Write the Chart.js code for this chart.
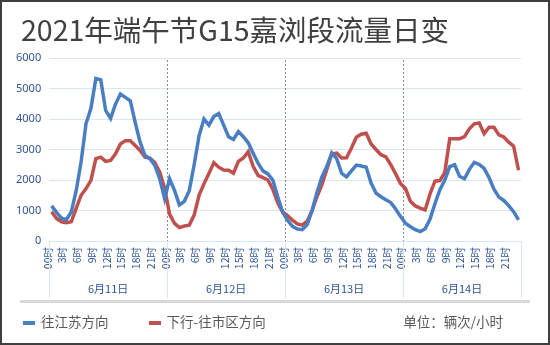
<!DOCTYPE html>
<html>
<head>
<meta charset="utf-8">
<script src="https://cdn.jsdelivr.net/npm/chart.js@4.4.1/dist/chart.umd.min.js"></script>
<style>
  body { margin: 0; background: #fff; }
  #wrap {
    position: relative; width: 550px; height: 345px; overflow: hidden;
    outline: 2px solid #3f3f3f; outline-offset: -2px;
    font-family: "Noto Sans CJK SC", sans-serif;
  }
  canvas { position: absolute; left: 0; top: 0; }
  #title { position: absolute; left: 21px; top: 10px; font-size: 28.5px; line-height: 38px; color: #404040; white-space: nowrap; }
  #rule { position: absolute; left: 20px; width: 510px; top: 300px; height: 3px; background: #d9d9d9; }
  #legend { position: absolute; left: 23px; top: 311px; font-size: 13.5px; line-height: 20px; color: #595959; white-space: nowrap; }
  #legend .item { display: inline-block; margin-right: 40px; }
  #legend .mark { display: inline-block; width: 12px; height: 4px; margin-right: 6px; vertical-align: middle; }
  #unit { position: absolute; right: 47px; top: 311px; font-size: 13.5px; line-height: 20px; color: #595959; }
</style>
</head>
<body>
<div id="wrap">
  <canvas id="flow" width="550" height="345"></canvas>
  <div id="title">2021年端午节G15嘉浏段流量日变</div>
  <div id="rule"></div>
  <div id="legend"></div>
  <div id="unit">单位：辆次/小时</div>
</div>
<script>
const days = ["6月11日", "6月12日", "6月13日", "6月14日"];
const hourTicks = ["00时", "3时", "6时", "9时", "12时", "15时", "18时", "21时"];
const seriesNames = ["往江苏方向", "下行-往市区方向"];
const seriesColors = ["#4a7ec3", "#c0504d"];

// hourly volumes, 24 per day
const toJiangsu = [
  1150, 940, 750, 700, 950, 1650, 2600, 3850, 4350, 5330, 5280, 4280,
  4020, 4490, 4820, 4710, 4600, 3890, 3240, 2800, 2700, 2480, 2040, 1390,
  2040, 1660, 1180, 1300, 1650, 2500, 3450, 4000, 3800, 4080, 4180, 3800,
  3420, 3330, 3590, 3420, 3220, 2880, 2550, 2300, 2200, 2000, 1450, 950,
  680, 480, 390, 370, 540, 1000, 1600, 2100, 2450, 2890, 2700, 2220,
  2100, 2300, 2490, 2460, 2420, 1900, 1570, 1450, 1350, 1260, 1050, 800,
  580, 470, 370, 310, 400, 720, 1230, 1680, 2000, 2440, 2500, 2120,
  2040, 2350, 2580, 2510, 2380, 2080, 1700, 1440, 1330, 1160, 960, 690,
];
const toCity = [
  960, 740, 630, 600, 630, 1070, 1500, 1720, 1990, 2700, 2750, 2610,
  2640, 2860, 3180, 3290, 3290, 3130, 2970, 2750, 2720, 2570, 2260, 1720,
  880, 580, 440, 490, 520, 850, 1500, 1880, 2210, 2570, 2420, 2330,
  2320, 2220, 2610, 2720, 2930, 2450, 2150, 2080, 2000, 1700, 1250, 950,
  830, 680, 560, 520, 650, 1000, 1460, 1850, 2350, 2850, 2880, 2720,
  2730, 3050, 3400, 3500, 3530, 3180, 3000, 2830, 2760, 2500, 2200, 1880,
  1720, 1300, 1150, 1080, 1020, 1550, 1960, 1980, 2250, 3350, 3350, 3350,
  3420, 3680, 3840, 3870, 3520, 3730, 3730, 3480, 3410, 3240, 3110, 2320,
];

const hourLabels = days.flatMap((d) =>
  Array.from({ length: 24 }, (_, h) => `${d} ${h}时`)
);

const tickBlue = "#2f5597";
const gridBlue = "#dae5f2";

// dashed day separators + light frame under the plot
const daySplit = {
  id: "daySplit",
  beforeDatasetsDraw(chart) {
    const { ctx, chartArea: a, scales } = chart;
    const x = scales.x;
    const step = x.getPixelForValue(1) - x.getPixelForValue(0);
    ctx.save();
    ctx.lineWidth = 1;
    for (let d = 0; d <= days.length; d++) {
      const px = Math.round(x.getPixelForValue(d * 24) - step / 2) + 0.5;
      ctx.strokeStyle = gridBlue;
      ctx.setLineDash([]);
      ctx.beginPath();
      ctx.moveTo(px, a.bottom);
      ctx.lineTo(px, scales.x2.bottom);
      ctx.stroke();
      if (d > 0 && d < days.length) {
        ctx.strokeStyle = "#8c8c8c";
        ctx.setLineDash([2, 2]);
        ctx.beginPath();
        ctx.moveTo(px, a.top + 2);
        ctx.lineTo(px, a.bottom);
        ctx.stroke();
      }
    }
    ctx.restore();
  },
};

const chart = new Chart(document.getElementById("flow"), {
  type: "line",
  data: {
    labels: hourLabels,
    datasets: [
      {
        label: seriesNames[0],
        data: toJiangsu,
        borderColor: seriesColors[0],
        backgroundColor: seriesColors[0],
        borderWidth: 3.5,
        pointRadius: 0,
        tension: 0,
      },
      {
        label: seriesNames[1],
        data: toCity,
        borderColor: seriesColors[1],
        backgroundColor: seriesColors[1],
        borderWidth: 3.5,
        pointRadius: 0,
        tension: 0,
      },
    ],
  },
  options: {
    responsive: false,
    animation: false,
    layout: { padding: { top: 58, left: 8, right: 29, bottom: 47 } },
    scales: {
      x: {
        offset: true,
        grid: { display: false, drawTicks: false },
        border: { color: gridBlue },
        afterFit: (s) => { s.height = 30; },
        ticks: {
          autoSkip: false,
          minRotation: 90,
          maxRotation: 90,
          padding: 6,
          labelOffset: -4,
          color: tickBlue,
          font: { family: "'Noto Sans CJK SC'", size: 10.5 },
          callback: (v, i) => (i % 3 === 0 ? hourTicks[(i % 24) / 3] : null),
        },
      },
      x2: {
        type: "category",
        labels: days,
        position: "bottom",
        offset: true,
        grid: { display: false, drawTicks: false },
        border: { display: false },
        afterFit: (s) => { s.height = 27; },
        ticks: {
          padding: 11,
          color: tickBlue,
          font: { family: "'Noto Sans CJK SC'", size: 11 },
        },
      },
      y: {
        min: 0,
        max: 6000,
        grid: { color: gridBlue, drawTicks: false },
        border: { display: false },
        ticks: {
          stepSize: 1000,
          padding: 8,
          color: tickBlue,
          font: { family: "'Noto Sans', sans-serif", size: 11 },
          callback: (v) => String(v),
        },
      },
    },
    plugins: {
      legend: { display: false },
      tooltip: { enabled: false },
    },
  },
  plugins: [daySplit],
});

// html legend built from the datasets
document.getElementById("legend").innerHTML = chart.data.datasets
  .map(
    (ds) =>
      `<span class="item"><span class="mark" style="background:${ds.borderColor}"></span>${ds.label}</span>`
  )
  .join("");
</script>
</body>
</html>
